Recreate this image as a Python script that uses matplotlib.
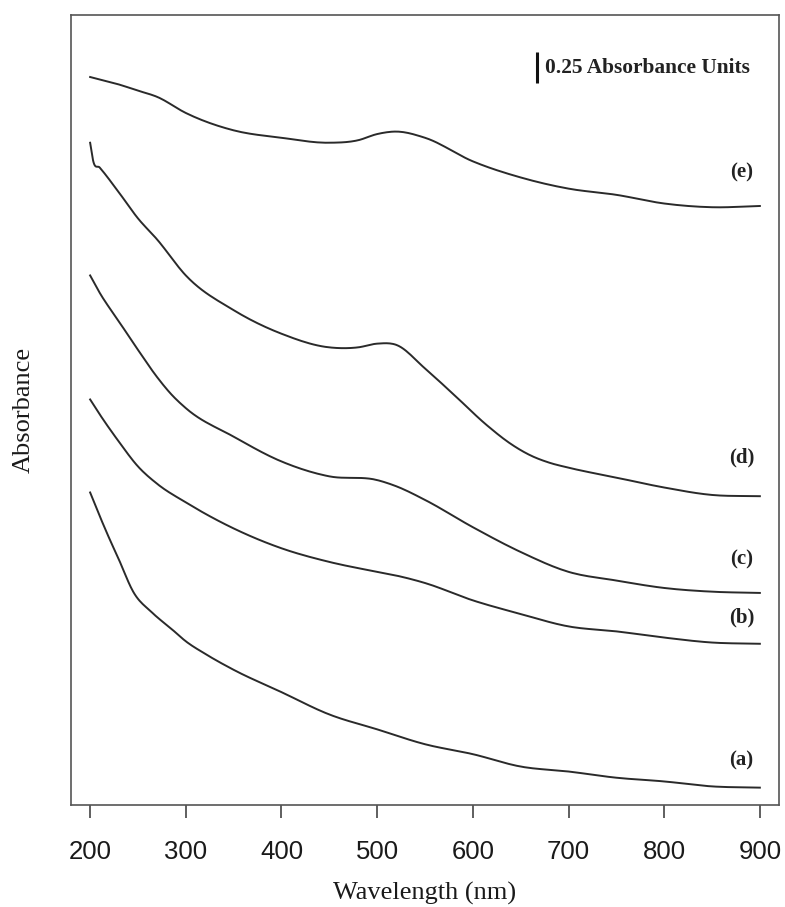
import matplotlib
matplotlib.use('Agg')
import matplotlib.pyplot as plt
import numpy as np

# stacked UV-vis spectra (offset absorbance)
wl_e = [200, 230, 250, 270, 300, 350, 400, 450, 480, 500, 520, 550, 600, 650, 700, 750, 800, 850, 900]
abs_e = [5.87, 5.81, 5.76, 5.71, 5.58, 5.44, 5.38, 5.34, 5.36, 5.41, 5.43, 5.38, 5.19, 5.06, 4.97, 4.92, 4.85, 4.82, 4.83]

wl_d = [200, 203, 210, 230, 250, 270, 300, 350, 400, 450, 480, 500, 520, 550, 580, 615, 640, 660, 680, 700, 750, 800, 850, 900]
abs_d = [5.34, 5.20, 5.14, 4.94, 4.73, 4.56, 4.27, 3.99, 3.80, 3.69, 3.69, 3.72, 3.71, 3.52, 3.31, 3.06, 2.91, 2.82, 2.76, 2.72, 2.64, 2.56, 2.50, 2.49]

wl_c = [200, 210, 230, 250, 270, 285, 300, 350, 400, 450, 500, 520, 550, 600, 650, 700, 750, 800, 850, 900]
abs_c = [4.27, 4.13, 3.90, 3.67, 3.45, 3.31, 3.20, 2.97, 2.77, 2.65, 2.62, 2.57, 2.46, 2.24, 2.04, 1.88, 1.81, 1.75, 1.72, 1.71]

wl_b = [200, 210, 230, 250, 270, 300, 350, 400, 450, 500, 520, 550, 600, 650, 700, 750, 800, 850, 900]
abs_b = [3.27, 3.15, 2.93, 2.73, 2.59, 2.44, 2.23, 2.07, 1.96, 1.88, 1.85, 1.79, 1.65, 1.54, 1.44, 1.40, 1.35, 1.31, 1.30]

wl_a = [200, 210, 220, 230, 245, 265, 285, 300, 320, 350, 400, 450, 500, 550, 600, 650, 700, 750, 800, 850, 900]
abs_a = [2.52, 2.33, 2.15, 1.98, 1.72, 1.55, 1.42, 1.32, 1.22, 1.09, 0.91, 0.73, 0.61, 0.49, 0.41, 0.31, 0.27, 0.22, 0.19, 0.15, 0.14]

labels = ['(a)', '(b)', '(c)', '(d)', '(e)']
label_y = [0.28, 1.43, 1.90, 2.72, 5.02]


def smooth(x, y, n=12):
    # cubic hermite in x through the read points, so the trace is not angular
    x = np.asarray(x, float)
    y = np.asarray(y, float)
    h = np.diff(x)
    d = np.diff(y) / h
    m = np.empty_like(y)
    m[0], m[-1] = d[0], d[-1]
    m[1:-1] = (d[1:] * h[:-1] + d[:-1] * h[1:]) / (h[:-1] + h[1:])
    t = np.linspace(0, 1, n, endpoint=False)
    xs, ys = [], []
    for i in range(len(x) - 1):
        h00 = 2 * t ** 3 - 3 * t ** 2 + 1
        h10 = t ** 3 - 2 * t ** 2 + t
        h01 = -2 * t ** 3 + 3 * t ** 2
        h11 = t ** 3 - t ** 2
        xs.append(x[i] + t * h[i])
        ys.append(h00 * y[i] + h10 * h[i] * m[i] + h01 * y[i + 1] + h11 * h[i] * m[i + 1])
    xs.append([x[-1]])
    ys.append([y[-1]])
    return np.concatenate(xs), np.concatenate(ys)


serif = 'Liberation Serif'

fig = plt.figure(figsize=(7.85, 9.07), dpi=100)
ax = fig.add_axes([71 / 785, 1 - 805 / 907, 708 / 785, 790 / 907])

for wl, ab in [(wl_a, abs_a), (wl_b, abs_b), (wl_c, abs_c), (wl_d, abs_d), (wl_e, abs_e)]:
    sx, sy = smooth(wl, ab)
    ax.plot(sx, sy, color='#2a2a2a', lw=1.4)

for lab, ly in zip(labels, label_y):
    ax.text(881, ly, lab, family=serif, fontsize=15, fontweight='bold',
            color='#222222', ha='center', va='bottom')

# 0.25 absorbance scale bar
ax.plot([667, 667], [5.82, 6.07], color='#111111', lw=2.2, solid_capstyle='butt')
ax.text(675, 5.945, '0.25 Absorbance Units', family=serif, fontsize=15.4,
        fontweight='bold', color='#222222', ha='left', va='center')

ax.set_xlim(180, 920)
ax.set_ylim(0, 6.37)
ax.set_xticks([200, 300, 400, 500, 600, 700, 800, 900])
ax.set_yticks([])
ax.tick_params(axis='x', direction='out', length=9.5, width=1.2, color='#444444',
               pad=16, labelsize=18.5, labelcolor='#1a1a1a')
for lbl in ax.get_xticklabels():
    lbl.set_family('Liberation Sans')
for sp in ax.spines.values():
    sp.set_color('#555555')
    sp.set_linewidth(1.2)

fig.text(425 / 785, 1 - 893 / 907, 'Wavelength (nm)', family=serif, fontsize=19,
         color='#1a1a1a', ha='center', va='center')
fig.text(24 / 785, 1 - 410 / 907, 'Absorbance', family=serif, fontsize=19,
         color='#1a1a1a', ha='center', va='center', rotation=90)

fig.savefig('out.png', dpi=100)
